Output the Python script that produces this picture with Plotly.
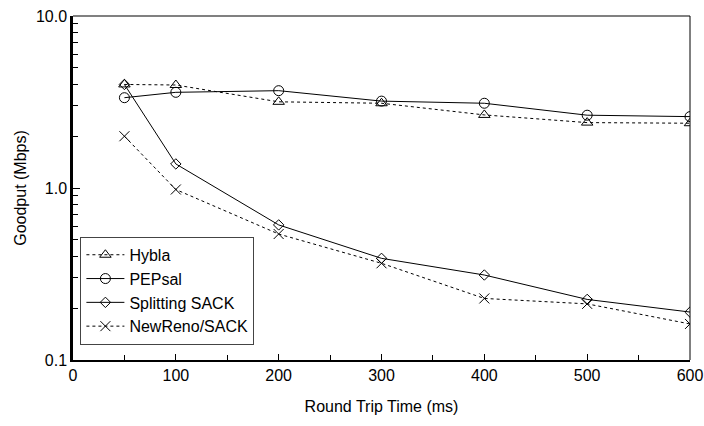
import plotly.graph_objects as go

rtt = [50, 100, 200, 300, 400, 500, 600]
hybla = [4.0, 3.97, 3.17, 3.11, 2.66, 2.40, 2.38]
pepsal = [3.35, 3.6, 3.68, 3.2, 3.11, 2.65, 2.60]
splitting = [4.0, 1.38, 0.61, 0.39, 0.312, 0.225, 0.19]
newreno = [2.0, 0.98, 0.54, 0.365, 0.228, 0.212, 0.162]

y_ticks = [0.1, 1, 10]
y_ticktext = ["0.1", "1.0", "10.0"]
y_minor = [0.2, 0.3, 0.4, 0.5, 0.6, 0.7, 0.8, 0.9, 2, 3, 4, 5, 6, 7, 8, 9]

FONT = "Liberation Sans, Arial, sans-serif"
FS = 16

series = [
    ("Hybla", hybla, "dot", "triangle-up-open", 10),
    ("PEPsal", pepsal, "solid", "circle-open", 10),
    ("Splitting SACK", splitting, "solid", "diamond-open", 8),
    ("NewReno/SACK", newreno, "dot", "x-thin-open", 10),
]

fig = go.Figure()
for name, vals, dash, sym, sz in series:
    fig.add_trace(go.Scatter(
        x=rtt, y=vals, name=name, mode="lines+markers",
        line=dict(color="black", width=1, dash=dash),
        marker=dict(symbol=sym, size=sz, color="black",
                    line=dict(color="black", width=1)),
    ))

fig.update_layout(
    width=704, height=426,
    margin=dict(l=73, r=14, t=16, b=66, autoexpand=False),
    paper_bgcolor="white", plot_bgcolor="white",
    font=dict(family=FONT, size=FS, color="black"),
    showlegend=True,
    legend=dict(
        x=0.012, y=0.358, xanchor="left", yanchor="top",
        bgcolor="white", bordercolor="#444", borderwidth=1,
        font=dict(family=FONT, size=FS, color="black"),
        tracegroupgap=0, itemwidth=38,
    ),
    xaxis=dict(
        range=[0, 600], tickmode="linear", tick0=0, dtick=100,
        ticks="inside", ticklen=6, tickcolor="black",
        showline=True, linecolor="black", linewidth=2,
        showgrid=False, zeroline=False, automargin=False,
        minor=dict(tickmode="linear", tick0=0, dtick=50, ticks="inside",
                   ticklen=5, tickcolor="black", showgrid=False),
        title=dict(text="Round Trip Time (ms)", font=dict(size=FS), standoff=18),
        tickfont=dict(size=FS),
    ),
    yaxis=dict(
        type="log", range=[-1, 1],
        tickmode="array", tickvals=y_ticks, ticktext=y_ticktext,
        ticks="inside", ticklen=7, tickcolor="black",
        showline=True, linecolor="black", linewidth=2.5,
        showgrid=False, zeroline=False, automargin=False,
        minor=dict(tickmode="array", tickvals=y_minor, ticks="inside",
                   ticklen=5, tickcolor="black", showgrid=False),
        title=dict(text="Goodput (Mbps)", font=dict(size=FS), standoff=6),
        tickfont=dict(size=FS),
    ),
    shapes=[
        dict(type="line", xref="paper", yref="paper", x0=0, x1=1, y0=1, y1=1,
             line=dict(color="#808080", width=2)),
        dict(type="line", xref="paper", yref="paper", x0=1, x1=1, y0=0, y1=1,
             line=dict(color="black", width=1)),
    ],
)

fig.write_html("out.html")
